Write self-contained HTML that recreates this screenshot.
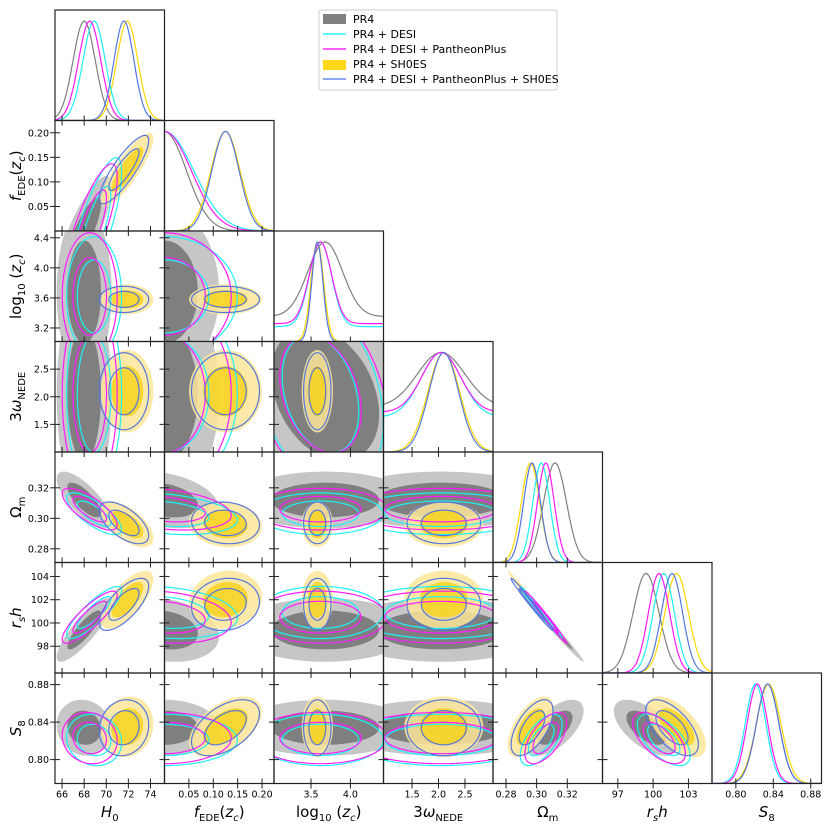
<!DOCTYPE html>
<html><head><meta charset="utf-8"><style>
body{margin:0;background:#fff}
svg{display:block;font-family:"DejaVu Sans","Liberation Sans",sans-serif}
</style></head><body>
<svg id="c" width="831" height="831" viewBox="0 0 831 831" xmlns="http://www.w3.org/2000/svg">
<g id="legend">
<rect x="319" y="10" width="238" height="80" rx="2" fill="#fff" stroke="#ccc"/>
<g><rect x="323" y="14" width="23" height="10" fill="#808080"/><text x="353" y="23" font-size="11">PR4</text></g>
<g><line x1="323" y1="34" x2="346" y2="34" stroke="#00f0ff" stroke-width="1.2"/><text x="353" y="38" font-size="11">PR4 + DESI</text></g>
<g><line x1="323" y1="49" x2="346" y2="49" stroke="#ff00ff" stroke-width="1.2"/><text x="353" y="53" font-size="11">PR4 + DESI + PantheonPlus</text></g>
<g><rect x="323" y="60" width="23" height="10" fill="#ffd81a"/><text x="353" y="68" font-size="11">PR4 + SH0ES</text></g>
<g><line x1="323" y1="79" x2="346" y2="79" stroke="#8fa8ee" stroke-width="2"/><text x="353" y="83" font-size="11">PR4 + DESI + PantheonPlus + SH0ES</text></g>
</g>
</svg>
<script>
// parameters: H0, fEDE, log10zc, 3wNEDE, Om, rsh, S8
const PARAMS = ['H0','fEDE','log10zc','3wNEDE','Om','rsh','S8'];
const XRANGE = [[65.36,75.27],[0,0.2245],[3.03,4.42],[0.96,3.03],[0.2715,0.343],[95.7,105.0],[0.7745,0.8915]];
const YRANGE = [[65.36,75.27],[0,0.225],[3.02,4.49],[1.0,3.0],[0.271,0.3435],[95.7,105.2],[0.7745,0.8924]];
const XTICKS = [[66,68,70,72,74],[0.05,0.10,0.15,0.20],[3.5,4.0],[1.5,2.0,2.5],[0.28,0.30,0.32],[97,100,103],[0.80,0.84,0.88]];
const YTICKS = [[],[0.05,0.10,0.15,0.20],[3.2,3.6,4.0,4.4],[1.5,2.0,2.5],[0.28,0.30,0.32],[98,100,102,104],[0.80,0.84,0.88]];
const XTICK_LABELS = [['66','68','70','72','74'],['0.05','0.10','0.15','0.20'],['3.5','4.0'],['1.5','2.0','2.5'],['0.28','0.30','0.32'],['97','100','103'],['0.80','0.84','0.88']];
const YTICK_LABELS = [[],['0.05','0.10','0.15','0.20'],['3.2','3.6','4.0','4.4'],['1.5','2.0','2.5'],['0.28','0.30','0.32'],['98','100','102','104'],['0.80','0.84','0.88']];

const MEAN_PR4   = [68.0, 0.0, 3.68, 2.05, 0.312, 99.4, 0.834];
const SIG_PR4    = [1.0, 0.045, 0.22, 0.45, 0.0075, 1.1, 0.012];
const SIG2D_PR4  = [1.0, 0.045, 0.45, 0.8, 0.0075, 1.1, 0.012];
const FLOOR_PR4  = [0, 0, 0.25, 0.45, 0, 0, 0];
const MEAN_DESI  = [68.9, 0.0, 3.62, 2.05, 0.303, 100.9, 0.821];
const SIG_DESI   = [1.0, 0.06, 0.14, 0.38, 0.0055, 0.9, 0.011];
const SIG2D_DESI = [1.0, 0.06, 0.32, 0.7, 0.0055, 0.9, 0.011];
const FLOOR_DESI = [0, 0, 0.15, 0.35, 0, 0, 0];
const MEAN_DESIPP= [68.5, 0.0, 3.62, 2.05, 0.306, 100.5, 0.823];
const SIG_DESIPP = [1.0, 0.055, 0.14, 0.36, 0.0055, 0.9, 0.011];
const SIG2D_DESIPP=[1.0, 0.055, 0.34, 0.7, 0.0055, 0.9, 0.011];
const FLOOR_DESIPP=[0, 0, 0.18, 0.4, 0, 0, 0];
const MEAN_SH0ES = [71.9, 0.125, 3.58, 2.10, 0.296, 102.0, 0.835];
const SIG_SH0ES  = [0.95, 0.03, 0.08, 0.30, 0.006, 1.0, 0.013];
const MEAN_ALL   = [71.6, 0.125, 3.58, 2.10, 0.297, 101.6, 0.834];
const SIG_ALL    = [0.9, 0.028, 0.07, 0.28, 0.0055, 0.9, 0.012];
const FLOOR_NONE = [0, 0, 0, 0, 0, 0, 0];

const CORR_NOSH = [
 [1, 0.8, 0, 0, -0.75, 0.85, -0.1],
 [0.8, 1, 0, 0, -0.3, -0.2, 0],
 [0, 0, 1, -0.3, 0, 0, 0],
 [0, 0, -0.3, 1, 0, 0, 0],
 [-0.75, -0.3, 0, 0, 1, -0.99, 0.6],
 [0.85, -0.2, 0, 0, -0.99, 1, -0.6],
 [-0.1, 0, 0, 0, 0.6, -0.6, 1]];
const CORR_SH = [
 [1, 0.85, 0, 0, -0.6, 0.7, 0.1],
 [0.85, 1, 0, 0, -0.1, 0.1, 0.5],
 [0, 0, 1, 0, 0, 0, 0],
 [0, 0, 0, 1, 0, 0, 0],
 [-0.6, -0.1, 0, 0, 1, -0.99, 0.6],
 [0.7, 0.1, 0, 0, -0.99, 1, -0.6],
 [0.1, 0.5, 0, 0, 0.6, -0.6, 1]];

const DATASETS = [
 {name:'pr4', mean:MEAN_PR4, sig:SIG_PR4, sig2:SIG2D_PR4, floor:FLOOR_PR4, corr:CORR_NOSH, fill:['#c6c6c6','#7f7f7f'], line:'#808080', filled:true, op:1},
 {name:'pr4-sh0es', mean:MEAN_SH0ES, sig:SIG_SH0ES, sig2:SIG_SH0ES, floor:FLOOR_NONE, corr:CORR_SH, fill:['#fde69a','#f7d21e'], line:'#ffd700', filled:true, op:0.85},
 {name:'pr4-desi', mean:MEAN_DESI, sig:SIG_DESI, sig2:SIG2D_DESI, floor:FLOOR_DESI, corr:CORR_NOSH, line:'#1ff0f5', filled:false},
 {name:'pr4-desi-pantheon', mean:MEAN_DESIPP, sig:SIG_DESIPP, sig2:SIG2D_DESIPP, floor:FLOOR_DESIPP, corr:CORR_NOSH, line:'#ff1aff', filled:false},
 {name:'pr4-all', mean:MEAN_ALL, sig:SIG_ALL, sig2:SIG_ALL, floor:FLOOR_NONE, corr:CORR_SH, line:'#5577dd', filled:false}
];

const NS='http://www.w3.org/2000/svg';
const svg=document.getElementById('c');
const X0=55, W=109.5, Y0=10, H=110.5, N=7;
function mk(tag, attrs, parent){const e=document.createElementNS(NS,tag);for(const k in attrs)e.setAttribute(k,attrs[k]);(parent||svg).appendChild(e);return e;}
function sx(j,v){const r=XRANGE[j];return X0+j*W+(v-r[0])/(r[1]-r[0])*W;}
function sy(i,v){const r=YRANGE[i];return Y0+(i+1)*H-(v-r[0])/(r[1]-r[0])*H;}
const defs=mk('defs',{});
const K=[2.49,1.52];

for(let i=0;i<N;i++){for(let j=0;j<=i;j++){
  const px=X0+j*W, py=Y0+i*H;
  const cp=mk('clipPath',{id:'cp'+i+'_'+j},defs);
  mk('rect',{x:px,y:py,width:W,height:H},cp);
  const g=mk('g',{'clip-path':'url(#cp'+i+'_'+j+')'});
  
  
  if(i===j){
    const r=XRANGE[j];
    for(const d of DATASETS){
      let pts=[];
      const f=d.floor[j];
      for(let s=0;s<=120;s++){const v=r[0]+(r[1]-r[0])*s/120;const z=(v-d.mean[j])/d.sig[j];
        const p=f+(1-f)*Math.exp(-0.5*z*z);
        pts.push(sx(j,v).toFixed(1)+','+(py+H-p*(H-11)).toFixed(1));}
      const pl=mk('polyline',{points:pts.join(' '),fill:'none',stroke:d.line,'stroke-width':1.2},g);
      
      
    }
  } else {
    for(const d of DATASETS){
      const mx=d.mean[j], my=d.mean[i], sX=d.sig2[j], sY=d.sig2[i], rho=d.corr[i][j];
      K.forEach((k,ki)=>{
        let pts=[];
        for(let s=0;s<72;s++){const t=s/72*2*Math.PI;const a=k*Math.cos(t), b=k*Math.sin(t);
          const vx=mx+sX*a, vy=my+sY*(rho*a+Math.sqrt(1-rho*rho)*b);
          pts.push(sx(j,vx).toFixed(1)+','+sy(i,vy).toFixed(1));}
        const attrs=d.filled?{points:pts.join(' '),fill:d.fill[ki],'fill-opacity':d.op,stroke:'none'}
                            :{points:pts.join(' '),fill:'none',stroke:d.line,'stroke-width':1.2};
        const pg=mk('polygon',attrs,g);
        
        
      });
    }
  }
  const fr=mk('rect',{x:px,y:py,width:W,height:H,fill:'none',stroke:'#222','stroke-width':1.2});
  
  
  XTICKS[j].forEach((t,ti)=>{const x=sx(j,t);mk('line',{x1:x,y1:py+H-5,x2:x,y2:py+H+5,stroke:'#222','stroke-width':1});
    if(i===N-1){const tl=mk('text',{x:x,y:py+H+14,'font-size':9.5,'text-anchor':'middle'});tl.textContent=XTICK_LABELS[j][ti];
      }});
  if(i!==j){YTICKS[i].forEach((t,ti)=>{const y=sy(i,t);mk('line',{x1:px-5,y1:y,x2:px+5,y2:y,stroke:'#222','stroke-width':1});
    if(j===0){const tl=mk('text',{x:px-6,y:y+3.5,'font-size':9.5,'text-anchor':'end'});tl.textContent=YTICK_LABELS[i][ti];
      }});}
}}
// axis labels
const XL=['<tspan font-style="italic">H</tspan><tspan font-size="10" dy="4">0</tspan>',
 '<tspan font-style="italic">f</tspan><tspan font-size="10" dy="4">EDE</tspan><tspan dy="-4">(</tspan><tspan font-style="italic">z</tspan><tspan font-size="10" font-style="italic" dy="4">c</tspan><tspan dy="-4">)</tspan>',
 'log<tspan font-size="10" dy="4">10</tspan><tspan dy="-4"> (</tspan><tspan font-style="italic">z</tspan><tspan font-size="10" font-style="italic" dy="4">c</tspan><tspan dy="-4">)</tspan>',
 '3<tspan font-style="italic">ω</tspan><tspan font-size="10" dy="4">NEDE</tspan>',
 'Ω<tspan font-size="10" dy="4">m</tspan>',
 '<tspan font-style="italic">r</tspan><tspan font-size="10" font-style="italic" dy="4">s</tspan><tspan font-style="italic" dy="-4">h</tspan>',
 '<tspan font-style="italic">S</tspan><tspan font-size="10" dy="4">8</tspan>'];
for(let j=0;j<N;j++){const t=mk('text',{x:X0+j*W+W/2,y:817,'font-size':15,'text-anchor':'middle'});t.innerHTML=XL[j];
  }
for(let i=1;i<N;i++){const cy=Y0+i*H+H/2;const t=mk('text',{x:0,y:0,'font-size':15,'text-anchor':'middle',transform:'translate(21,'+cy+') rotate(-90)'});t.innerHTML=XL[i];
  }
svg.appendChild(document.getElementById('legend'));
</script>
</body></html>
